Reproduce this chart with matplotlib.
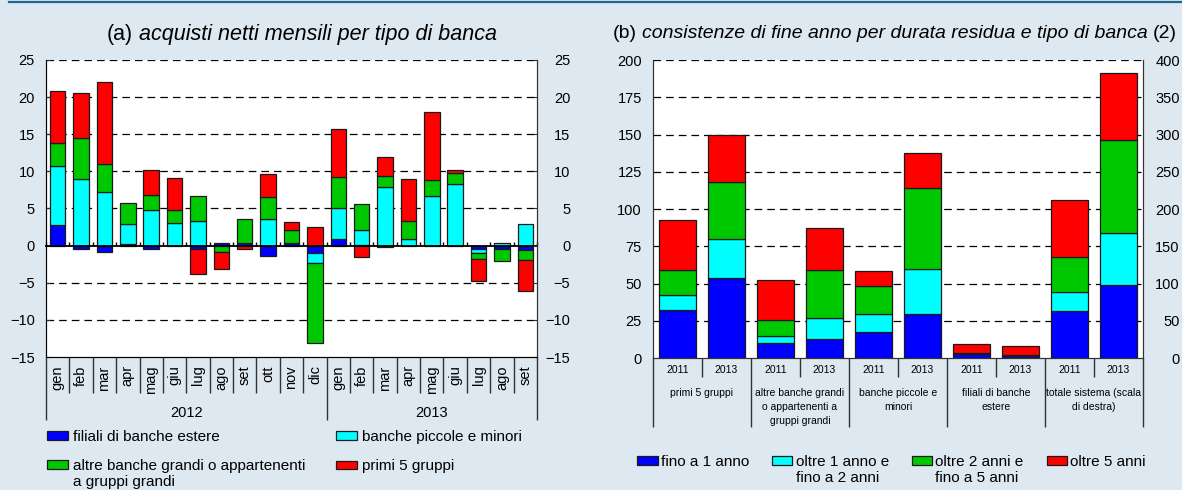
import matplotlib
matplotlib.use('Agg')
import matplotlib.pyplot as plt
import numpy as np
from matplotlib.legend_handler import HandlerPatch, update_from_first_child
from matplotlib.patches import Rectangle
from matplotlib.lines import Line2D
from matplotlib.text import Annotation

plt.rcParams['font.family'] = ['Liberation Sans', 'DejaVu Sans']
plt.rcParams['lines.scale_dashes'] = False

# ---------------- data: panel (a) ----------------
months = ['gen', 'feb', 'mar', 'apr', 'mag', 'giu', 'lug', 'ago', 'set', 'ott', 'nov', 'dic',
          'gen', 'feb', 'mar', 'apr', 'mag', 'giu', 'lug', 'ago', 'set']
years_a = ['2012', '2013']
months_per_year = [12, 9]
filiali = [2.8, -0.5, -0.8, 0.25, -0.4, 0.0, -0.45, 0.3, 0.35, -1.45, 0.35, -1.0,
           0.9, 0.05, -0.2, 0.0, 0.0, 0.0, -0.5, -0.45, -0.6]
piccole = [7.95, 9.0, 7.2, 2.7, 4.8, 3.0, 3.3, 0.0, 0.0, 3.65, 0.0, -1.35,
           4.2, 2.0, 7.85, 0.95, 6.75, 8.35, -0.55, 0.4, 2.9]
altre = [3.05, 5.5, 3.8, 2.8, 2.0, 1.8, 3.45, -0.9, 3.25, 2.9, 1.75, -10.75,
         4.2, 3.5, 1.5, 2.4, 2.1, 1.45, -0.75, -1.6, -1.35]
primi = [7.05, 6.05, 11.0, 0.0, 3.4, 4.3, -3.35, -2.25, -0.4, 3.1, 1.1, 2.55,
         6.4, -1.55, 2.65, 5.6, 9.2, 0.4, -2.95, 0.0, -4.1]
labels_a = ['filiali di banche estere', 'altre banche grandi o appartenenti\na gruppi grandi',
            'banche piccole e minori', 'primi 5 gruppi']

# ---------------- data: panel (b) ----------------
groups_b = ['primi 5 gruppi', 'altre banche grandi\no appartenenti a\ngruppi grandi',
            'banche piccole e\nminori', 'filiali di banche\nestere',
            'totale sistema (scala\ndi destra)']
years_b = ['2011', '2013']
fino1 = [32.4, 53.6, 10.3, 12.7, 17.4, 29.7, 2.8, 1.5, 63.0, 97.9]
oltre1_2 = [9.6, 26.6, 4.2, 13.9, 11.9, 30.2, 0.3, 0.2, 25.5, 70.1]
oltre2_5 = [17.0, 37.8, 10.8, 32.6, 18.7, 54.1, 0.3, 0.2, 46.5, 124.7]
oltre5 = [33.5, 31.7, 27.2, 28.2, 10.5, 23.4, 5.8, 6.0, 76.8, 89.9]
labels_b = ['fino a 1 anno\n ', 'oltre 1 anno e\nfino a 2 anni',
            'oltre 2 anni e\nfino a 5 anni', 'oltre 5 anni\n ']
n_right_scale = 2  # last group plotted on the right-hand scale

# ---------------- style ----------------
BLUE, CYAN, GREEN, RED = '#0000ff', '#00ffff', '#00c800', '#ff0000'
BG = '#dde8f1'
EDGE = '#1a1a1a'
SPINE = '#333333'
TICK_FS = 10.5
LEG_FS = 11

W, H = 1182, 490
fig = plt.figure(figsize=(W / 100, H / 100), dpi=100)
fig.patch.set_facecolor(BG)


def px_axes(l, t, r, b):
    return fig.add_axes([l / W, 1 - b / H, (r - l) / W, (b - t) / H])


def stacked(ax, x, series, colors, width):
    pos = np.zeros(len(x))
    neg = np.zeros(len(x))
    conts = []
    for vals, c in zip(series, colors):
        v = np.asarray(vals, float)
        bottom = np.where(v >= 0, pos, neg)
        bc = ax.bar(x, v, width, bottom=bottom, color=c, edgecolor=EDGE,
                    linewidth=0.9, zorder=3)
        for p, vv in zip(bc.patches, v):
            if vv == 0:
                p.set_visible(False)
        pos += np.clip(v, 0, None)
        neg += np.clip(v, None, 0)
        conts.append(bc)
    return conts


def dashed_grid(ax, ticks, skip):
    for v in ticks:
        if v in skip:
            continue
        ax.axhline(v, color='black', lw=0.9, dashes=(5.5, 3.6), zorder=1)


def up_patch(shift):
    def f(legend, orig_handle, xdescent, ydescent, width, height, fontsize):
        return Rectangle((-xdescent, -ydescent + shift * fontsize), width, height)
    return HandlerPatch(patch_func=f, update_func=update_from_first_child)


# ================= panel (a) =================
axA = px_axes(46, 60, 537, 357)
xa = np.arange(len(months))
contA = stacked(axA, xa, [filiali, piccole, altre, primi], [BLUE, CYAN, GREEN, RED], 0.66)
axA.set_xlim(-0.5, len(months) - 0.5)
axA.set_ylim(-15, 25)
yt = np.arange(-15, 26, 5)
axA.set_yticks(yt)
dashed_grid(axA, yt, (0, -15))
axA.spines['top'].set_visible(False)
for s in ('left', 'right', 'bottom'):
    axA.spines[s].set_color(SPINE)
axA.tick_params(axis='y', which='major', direction='in', length=3, color=SPINE,
                labelsize=TICK_FS, pad=8)

axAr = axA.twinx()
axAr.set_ylim(axA.get_ylim())
axAr.set_yticks(yt)
axAr.spines['top'].set_visible(False)
axAr.spines['right'].set_color(SPINE)
axAr.tick_params(axis='y', direction='in', length=3, color=SPINE,
                 labelsize=TICK_FS, pad=24)
for t in axAr.yaxis.get_major_ticks():
    t.label2.set_horizontalalignment('right')

# month labels and separators
axA.set_xticks(xa, months, rotation=90, fontsize=TICK_FS)
axA.tick_params(axis='x', which='major', length=0, pad=6)
year_starts = np.cumsum([0] + months_per_year)
bounds_all = np.arange(len(months) + 1) - 0.5
year_bounds = year_starts - 0.5
minor_b = [b for b in bounds_all if b not in year_bounds]
axA.set_xticks(minor_b, minor=True)
axA.tick_params(axis='x', which='minor', length=26, width=1, color=SPINE, direction='out')

secA1 = axA.secondary_xaxis('bottom')
secA1.set_xticks(year_bounds, labels=[''] * len(year_bounds))
secA1.tick_params(length=45, width=1, color=SPINE)
secA1.spines['bottom'].set_visible(False)

secA2 = axA.secondary_xaxis('bottom')
year_centers = [np.mean(xa[year_starts[i]:year_starts[i + 1]]) for i in range(len(years_a))]
secA2.set_xticks(year_centers, labels=years_a, fontsize=TICK_FS)
secA2.tick_params(length=0, pad=35)
secA2.spines['bottom'].set_visible(False)

# zero line with small ticks
secA0 = axA.secondary_xaxis(0, transform=axA.transData)
secA0.set_xticks(bounds_all, labels=[''] * len(bounds_all))
secA0.tick_params(direction='in', length=3, width=1, color='black')
secA0.spines['bottom'].set_color('black')
secA0.spines['bottom'].set_linewidth(1.3)
secA0.set_zorder(4)

# ================= panel (b) =================
axB = px_axes(653, 60, 1143, 358)
axB2 = axB.twinx()
xb = np.arange(len(fino1))
nL = len(fino1) - n_right_scale
serB = [fino1, oltre1_2, oltre2_5, oltre5]
colB = [BLUE, CYAN, GREEN, RED]
contB = stacked(axB, xb[:nL], [s[:nL] for s in serB], colB, 0.77)
stacked(axB2, xb[nL:], [s[nL:] for s in serB], colB, 0.77)
axB.set_xlim(-0.5, len(fino1) - 0.5)
axB.set_ylim(0, 200)
axB2.set_ylim(0, 400)
ytb = np.arange(0, 201, 25)
axB.set_yticks(ytb)
axB2.set_yticks(np.arange(0, 401, 50))
dashed_grid(axB, ytb, (0,))
for a in (axB, axB2):
    a.spines['top'].set_visible(False)
    for s in ('left', 'right', 'bottom'):
        a.spines[s].set_color(SPINE)
axB.tick_params(axis='y', length=0, pad=8, labelsize=TICK_FS)
axB2.tick_params(axis='y', length=0, pad=26.5, labelsize=TICK_FS)
for t in axB2.yaxis.get_major_ticks():
    t.label2.set_horizontalalignment('right')

years_b_labels = years_b * len(groups_b)
axB.set_xticks(xb, years_b_labels, fontsize=7.5)
axB.tick_params(axis='x', which='major', length=0, pad=5)
gb = np.arange(len(groups_b) + 1) * 2 - 0.5
inner_b = gb[:-1] + 1
axB.set_xticks(inner_b, minor=True)
axB.tick_params(axis='x', which='minor', length=14, width=1, color=SPINE, direction='out')

secB1 = axB.secondary_xaxis('bottom')
secB1.set_xticks(gb, labels=[''] * len(gb))
secB1.tick_params(length=50, width=1, color=SPINE)
secB1.spines['bottom'].set_visible(False)

secB2 = axB.secondary_xaxis('bottom')
secB2.set_xticks(inner_b, labels=groups_b, fontsize=7.5)
secB2.tick_params(length=0, pad=21.5)
secB2.spines['bottom'].set_visible(False)
for lb in secB2.get_xticklabels():
    lb.set_linespacing(1.5)

# ================= titles =================
def title(x_px, base_px, parts, fs):
    prev = None
    for txt, style in parts:
        if prev is None:
            prev = fig.text(x_px / W, 1 - base_px / H, txt, fontsize=fs,
                            fontstyle=style, va='baseline', ha='left')
        else:
            ann = Annotation(txt, xy=(1, 0), xycoords=prev, xytext=(fs * 0.27, 0),
                             textcoords='offset points', fontsize=fs,
                             fontstyle=style, va='bottom', ha='left')
            fig.add_artist(ann)
            prev = ann


title(107, 40, [('(a)', 'normal'), ('acquisti netti mensili per tipo di banca', 'italic')], 15.5)
title(613, 38, [('(b)', 'normal'),
                ('consistenze di fine anno per durata residua e tipo di banca', 'italic'),
                ('(2)', 'normal')], 14)

fig.add_artist(Line2D([9 / W, 1], [1 - 2.5 / H] * 2, color='#1e6690', lw=1.6))

# ================= legends =================
hmA = {contA[2]: up_patch(0.65)}
legA = fig.legend([contA[0], contA[2], contA[1], contA[3]], labels_a, ncol=2,
                  loc='upper left', bbox_to_anchor=(47 / W, 1 - 430 / H),
                  frameon=False, fontsize=LEG_FS, borderpad=0, borderaxespad=0,
                  handlelength=1.35, handleheight=0.5, handletextpad=0.33,
                  labelspacing=1.0, columnspacing=2.03, handler_map=hmA)

hmB = {c: up_patch(0.65) for c in contB}
legB = fig.legend(contB, labels_b, ncol=4, loc='upper left',
                  bbox_to_anchor=(637 / W, 1 - 455 / H), frameon=False,
                  fontsize=LEG_FS, borderpad=0, borderaxespad=0,
                  handlelength=1.35, handleheight=0.5, handletextpad=0.2,
                  labelspacing=1.0, columnspacing=1.5, handler_map=hmB)

fig.savefig('out.png', dpi=100, facecolor=BG)
